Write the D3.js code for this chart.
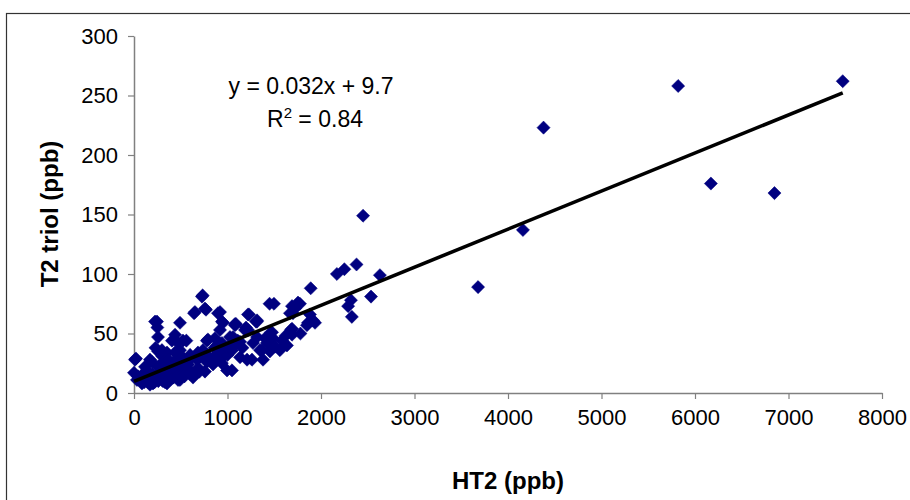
<!DOCTYPE html>
<html>
<head>
<meta charset="utf-8">
<script src="https://cdn.jsdelivr.net/npm/d3@7"></script>
<style>
  html, body { margin: 0; padding: 0; background: #fff; }
  svg { display: block; font-family: Arial, "Liberation Sans", sans-serif; }
</style>
</head>
<body>
<svg id="chart" width="910" height="500"></svg>
<script>
// HT2 (ppb) values
const ht2 = [
  7580, 5820, 4380, 6170, 6850, 4160, 3680, 2450, 2380, 2250, 2170, 2630, 1890, 2320, 2290, 2535, 2330,
  1450, 1497, 734, 759, 920, 941, 1080, 1219, 1305, 1198, 1465, 1690, 1668, 1775, 1722, 1882, 1915, 1850, 1936,
  21, 0, 246, 250, 257, 492, 727, 770, 652, 952, 1091, 1230, 1316, 1219, 1679, 1700,
  460, 406, 780, 920, 1059, 1110, 1273, 1348, 1487, 1454, 920, 995, 940, 631, 578, 660,
  524, 560, 492, 353, 299, 171, 85, 139, 203, 96, 32, 171, 353, 492, 684, 738, 813, 888, 1059, 1134,
  1209, 1380, 1422, 1583, 1636, 1487, 1316, 1690,
  642, 898, 225, 439, 11, 257, 193, 118, 43, 85, 203, 332, 471, 620, 578, 674, 781, 791, 866, 941,
  439, 513, 364, 332, 492, 759, 845, 888,
  1690, 1754, 1316, 1080, 1861, 1476, 1401, 1508, 1369, 1262, 1048, 973, 1187, 1134, 1027,
  150, 270, 310, 420, 380, 560, 700, 620, 300, 230, 1000, 1160, 1560, 1620, 1780, 50, 110, 400, 540, 860,
  150, 180, 220, 260, 300, 340, 380, 420, 460, 500, 540, 600, 650, 700, 120, 200, 280, 350, 420, 480,
  550, 260, 310, 370, 450, 520, 600, 700, 780, 850, 920, 1000, 1050
];
// T2 triol (ppb) values
const t2triol = [
  262, 258, 223, 176, 168, 137, 89, 149, 108, 104, 100, 99, 88, 78, 73, 81, 64,
  75, 75, 82, 71, 68, 60, 58, 66, 60, 55, 51, 54, 67, 75, 71, 66, 61, 57, 59,
  29, 17, 60, 55, 47, 59, 81, 70, 68, 59, 58, 66, 60, 53, 53, 67,
  43, 44, 44, 53, 47, 44, 42, 36, 40, 35, 28, 19, 25, 13, 19, 19,
  44, 44, 36, 34, 36, 28, 15, 19, 15, 11, 11, 7, 8, 11, 34, 36, 28, 40, 39, 30,
  28, 28, 42, 44, 40, 46, 47, 49,
  67, 67, 60, 49, 28, 35, 26, 22, 14, 8, 8, 9, 11, 17, 24, 28, 32, 45, 46, 42,
  34, 30, 22, 17, 18, 18, 24, 32,
  73, 76, 61, 57, 59, 51, 46, 39, 36, 28, 19, 34, 53, 43, 47,
  12, 14, 10, 13, 22, 25, 20, 30, 31, 38, 32, 38, 36, 48, 50, 12, 9, 16, 14, 38,
  9, 10, 9, 10, 11, 12, 12, 13, 14, 14, 15, 16, 17, 18, 14, 16, 18, 20, 22, 24,
  24, 22, 26, 28, 28, 30, 32, 30, 26, 30, 36, 38, 36
];
// axis ticks
const xTicks = [0, 1000, 2000, 3000, 4000, 5000, 6000, 7000, 8000];
const yTicks = [0, 50, 100, 150, 200, 250, 300];
// trendline coefficients
const slope = 0.032, intercept = 9.7;
const eqText = "y = 0.032x + 9.7";
const r2Value = "0.84";
const xTitle = "HT2 (ppb)";
const yTitle = "T2 triol (ppb)";

const points = ht2.map((x, i) => ({ x, y: t2triol[i] }));

const svg = d3.select("#chart");

// outer chart border
svg.append("rect")
  .attr("x", 6.5).attr("y", 13.5)
  .attr("width", 1000).attr("height", 1000)
  .attr("fill", "#fff").attr("stroke", "#333").attr("stroke-width", 1.2);

const x = d3.scaleLinear().domain([0, 8000]).range([134, 882]);
const y = d3.scaleLinear().domain([0, 300]).range([393, 36]);

// y axis
const yAxis = svg.append("g")
  .attr("transform", "translate(134,0)")
  .call(d3.axisLeft(y).tickValues(yTicks).tickFormat(d3.format("d")).tickSize(6).tickPadding(10).tickSizeOuter(0));
// x axis
const xAxis = svg.append("g")
  .attr("transform", "translate(0,393)")
  .call(d3.axisBottom(x).tickValues(xTicks).tickFormat(d3.format("d")).tickSize(6).tickPadding(10).tickSizeOuter(0));

[xAxis, yAxis].forEach(g => {
  g.select(".domain").attr("stroke", "#808080").attr("stroke-width", 1.5);
  g.selectAll(".tick line").attr("stroke", "#808080").attr("stroke-width", 1.2);
  g.selectAll(".tick text").attr("fill", "#000")
    .style("font-size", "22px").style("font-family", "Arial, 'Liberation Sans', sans-serif");
});

// points (diamonds)
const diamond = d3.symbol().type(d3.symbolSquare).size(86);
svg.append("g").selectAll("path")
  .data(points)
  .join("path")
  .attr("d", diamond)
  .attr("transform", d => `translate(${x(d.x)},${y(d.y)}) rotate(45)`)
  .attr("fill", "#000080")
  .attr("stroke", "#000080")
  .attr("stroke-width", 0.5);

// trendline
const xMin = d3.min(ht2), xMax = d3.max(ht2);
svg.append("line")
  .attr("x1", x(xMin)).attr("y1", y(slope * xMin + intercept))
  .attr("x2", x(xMax)).attr("y2", y(slope * xMax + intercept))
  .attr("stroke", "#000").attr("stroke-width", 3.6);

// equation labels
svg.append("text")
  .attr("x", 311).attr("y", 94)
  .attr("text-anchor", "middle")
  .style("font-size", "23px")
  .text(eqText);
const r2 = svg.append("text")
  .attr("x", 315).attr("y", 127)
  .attr("text-anchor", "middle")
  .style("font-size", "23px");
r2.append("tspan").text("R");
r2.append("tspan").attr("dy", -9).style("font-size", "15px").text("2");
r2.append("tspan").attr("dy", 9).text(" = " + r2Value);

// axis titles
svg.append("text")
  .attr("x", 508).attr("y", 489)
  .attr("text-anchor", "middle")
  .style("font-size", "24px").style("font-weight", "bold")
  .text(xTitle);
svg.append("text")
  .attr("transform", "translate(58,214) rotate(-90)")
  .attr("text-anchor", "middle")
  .style("font-size", "24px").style("font-weight", "bold")
  .text(yTitle);
</script>
</body>
</html>
